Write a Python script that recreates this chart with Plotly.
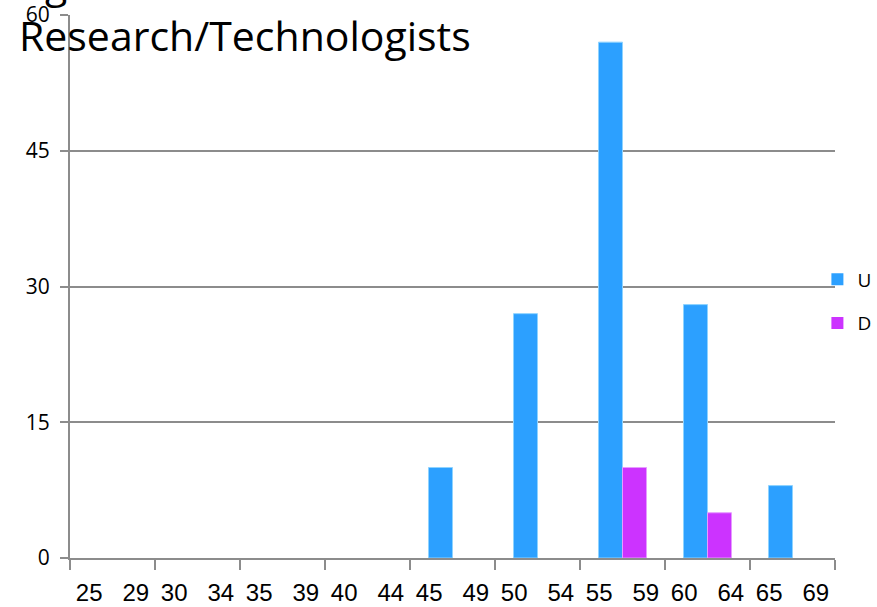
import plotly.graph_objects as go

SEP = "\u00a0\u00a0\u00a0"
categories = [f"25{SEP}29", f"30{SEP}34", f"35{SEP}39", f"40{SEP}44", f"45{SEP}49",
              f"50{SEP}54", f"55{SEP}59", f"60{SEP}64", f"65{SEP}69"]
u_values = [0, 0, 0, 0, 10, 27, 57, 28, 8]
d_values = [0, 0, 0, 0, 0, 0, 10, 5, 0]
y_ticks = [0, 15, 30, 45, 60]

FONT = "Open Sans"
XFONT = "Liberation Sans"
GRID = "#8c8c8c"


def outline(vals):
    return [1 if v > 0 else 0 for v in vals]


fig = go.Figure()
fig.add_trace(go.Bar(name="U", x=categories, y=u_values, legendgroup="u",
                     marker=dict(color="#2CA0FF", line=dict(color="#8ED3FF", width=outline(u_values)))))
fig.add_trace(go.Bar(name="D", x=categories, y=d_values, legendgroup="d",
                     marker=dict(color="#CC33FF", line=dict(color="#E69BFF", width=outline(d_values)))))

fig.update_layout(
    width=877, height=607,
    paper_bgcolor="white", plot_bgcolor="white",
    barmode="group", bargap=0.435, bargroupgap=0,
    margin=dict(l=70, r=42, t=15, b=49, autoexpand=False),
    font=dict(family=FONT, color="black"),
    showlegend=True,
    legend=dict(x=0.977, xanchor="left", y=0.4726, yanchor="middle",
                font=dict(family=FONT, size=19, color="black"),
                itemwidth=30, tracegroupgap=16, bgcolor="rgba(0,0,0,0)",
                traceorder="grouped"),
    xaxis=dict(type="category", tickson="boundaries", ticks="outside", ticklen=10,
               tickwidth=2, tickcolor=GRID, showline=True, linecolor=GRID, linewidth=2,
               showgrid=False, tickfont=dict(family=XFONT, size=24, color="black"),
               tickangle=0, ticklabelstandoff=12),
    yaxis=dict(range=[0, 60], tickvals=y_ticks, ticks="outside", ticklen=8, tickwidth=2,
               tickcolor=GRID, showline=True, linecolor=GRID, linewidth=2,
               showgrid=True, gridcolor=GRID, gridwidth=2, zeroline=False,
               tickfont=dict(family=FONT, size=21, color="black"), ticklabelstandoff=6),
    annotations=[dict(text="Age<br>Research/Technologists", xref="paper", yref="paper",
                      x=(17 - 70) / 765, y=(558 - 65) / 543, xanchor="left", yanchor="bottom",
                      align="left", showarrow=False,
                      font=dict(family=FONT, size=41, color="black"))],
)

fig.write_html("out.html", config={"displayModeBar": False},
               post_script="document.body.style.margin='0';")
